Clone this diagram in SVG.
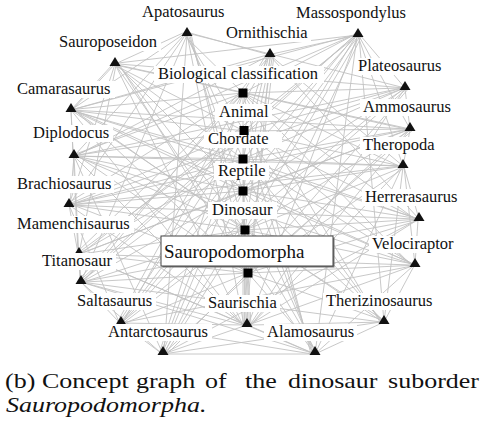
<svg xmlns="http://www.w3.org/2000/svg" width="482" height="424" viewBox="0 0 482 424">
<style>
.e{fill:none;stroke:#c2c2c2;stroke-width:0.9}
.bg{fill:#fff}
.sq{fill:#000}
</style>
<defs>
<path id="tri" d="M0 -5L5.5 4L-5.5 4Z"/>
</defs>
<rect width="482" height="424" fill="#fff"/>
<g id="connectors" class="e">
<path d="M183 34L243 93M184.5 34L244 131M186 34L243 159M188 34L243 191M189.5 34L245 230M191 34L248 273
M111 64L243 93M112.5 64L244 131M114 64L243 159M116 64L243 191M117.5 64L245 230M119 64L248 273
M266 55L243 93M267.5 55L244 131M269 55L243 159M271 55L243 191M272.5 55L245 230M274 55L248 273
M354 35L243 93M355.5 35L244 131M357 35L243 159M359 35L243 191M360.5 35L245 230M362 35L248 273
M401 88L243 93M402.5 88L244 131M404 88L243 159M406 88L243 191M407.5 88L245 230M409 88L248 273
M406 129L243 93M407.5 129L244 131M409 129L243 159M411 129L243 191M412.5 129L245 230M414 129L248 273
M399 166L243 93M400.5 166L244 131M402 166L243 159M404 166L243 191M405.5 166L245 230M407 166L248 273
M67 110L243 93M68.5 110L244 131M70 110L243 159M72 110L243 191M73.5 110L245 230M75 110L248 273
M70 156L243 93M71.5 156L244 131M73 156L243 159M75 156L243 191M76.5 156L245 230M78 156L248 273
M65 205L243 93M66.5 205L244 131M68 205L243 159M70 205L243 191M71.5 205L245 230M73 205L248 273
M75 254L243 93M76.5 254L244 131M78 254L243 159M80 254L243 191M81.5 254L245 230M83 254L248 273
M77 282L243 93M78.5 282L244 131M80 282L243 159M82 282L243 191M83.5 282L245 230M85 282L248 273
M117 323L243 93M118.5 323L244 131M120 323L243 159M122 323L243 191M123.5 323L245 230M125 323L248 273
M159 354L243 93M160.5 354L244 131M162 354L243 159M164 354L243 191M165.5 354L245 230M167 354L248 273
M243 325L243 93M244.5 325L244 131M246 325L243 159M248 325L243 191M249.5 325L245 230M251 325L248 273
M311 354L243 93M312.5 354L244 131M314 354L243 159M316 354L243 191M317.5 354L245 230M319 354L248 273
M380 322L243 93M381.5 322L244 131M383 322L243 159M385 322L243 191M386.5 322L245 230M388 322L248 273
M415 219L243 93M416.5 219L244 131M418 219L243 159M420 219L243 191M421.5 219L245 230M423 219L248 273
M411 265L243 93M412.5 265L244 131M414 265L243 159M416 265L243 191M417.5 265L245 230M419 265L248 273"/>
<path d="M187 34L244 325M115 64L243 325M270 55L246 325M358 35L248 325M405 88L250 325M410 129L251 325M403 166L251 325M71 110L243 325M74 156L243 325M69 205L243 324M79 254L243 324M81 282L243 325M121 323L243 325M163 354L244 326M315 354L250 326M384 322L251 325M419 219L251 324M415 265L251 324"/>
<path d="M185 34L74 156M184 34L71 110M186 34L69 205M183 33L115 64M190 33L270 55M187 35L81 282M191 34L405 88
M115 64L69 205M113 64L71 110M118 63L358 35M119 64L405 88M116 65L79 254M118 65L410 129
M272 54L358 35M271 56L403 166M270 56L419 219M267 55L71 110
M360 35L405 88M359 36L410 129M358 36L403 166M355 36L121 323M356 36L163 354M359 36L384 322M354 35L71 110M357 36L315 354M355 35L81 282M354 35L74 156
M405 89L410 129M402 88L74 156M402 89L69 205M403 89L121 323
M410 130L403 166M407 129L71 110M407 130L79 254M408 130L163 354
M404 167L419 219M404 167L415 265M403 167L384 322M400 166L74 156M402 167L315 354M400 166L69 205
M418 220L415 265M416 219L69 205M416 220L81 282M417 220L163 354M416 218L71 110
M414 266L384 322M412 265L79 254M412 266L121 323M412 264L74 156M413 266L315 354
M382 323L315 354M381 322L163 354M381 322L81 282M381 321L71 110
M312 354L163 354M312 353L81 282M312 354L121 323M312 353L79 254M313 352L115 64
M161 353L121 323M161 353L81 282M162 352L74 156M164 352L187 34
M119 322L81 282M119 322L69 205M123 322L270 55
M81 281L79 254M80 281L74 156M84 281L270 55
M78 253L69 205M78 253L71 110M82 253L358 35
M70 204L74 156M72 204L410 129
M73 155L71 110M77 155L270 55
M73 109L115 64M74 110L415 265"/>
</g>
<g id="nodes" font-family="Liberation Serif, serif" font-size="16.5" fill="#111">
<g id="n-sauropodomorpha"><rect x="162.5" y="237.5" width="172" height="30" fill="#777"/><rect x="161" y="236" width="172" height="30" fill="#fff" stroke="#444" stroke-width="1"/><text x="164" y="258" font-size="19">Sauropodomorpha</text><rect class="sq" x="243.5" y="268.5" width="9" height="9"/></g>
<g id="n-dinosaur"><rect class="bg" x="208" y="202" width="69" height="17"/><text x="212" y="215">Dinosaur</text><rect class="sq" x="240.5" y="225.5" width="9" height="9"/></g>
<g id="n-reptile"><rect class="bg" x="214" y="163" width="55" height="17"/><text x="218" y="176">Reptile</text><rect class="sq" x="238.5" y="186.5" width="9" height="9"/></g>
<g id="n-chordate"><rect class="bg" x="204" y="132" width="78" height="16"/><text x="208" y="144">Chordate</text><rect class="sq" x="238.5" y="154.5" width="9" height="9"/></g>
<g id="n-animal"><rect class="bg" x="215" y="104" width="57" height="17"/><text x="219" y="117">Animal</text><rect class="sq" x="239.5" y="126" width="9" height="9"/></g>
<g id="n-bioclass"><rect class="bg" x="154" y="66" width="170" height="17"/><text x="158" y="79">Biological classification</text><rect class="sq" x="238.5" y="88.5" width="9" height="9"/></g>
<g id="n-apatosaurus"><rect class="bg" x="139" y="4" width="88" height="17"/><text x="142" y="17">Apatosaurus</text><use href="#tri" x="187" y="32"/></g>
<g id="n-sauroposeidon"><rect class="bg" x="56" y="34" width="105" height="17"/><text x="59" y="47">Sauroposeidon</text><use href="#tri" x="115" y="62"/></g>
<g id="n-ornithischia"><rect class="bg" x="223" y="25" width="88" height="17"/><text x="226" y="38">Ornithischia</text><use href="#tri" x="270" y="53"/></g>
<g id="n-massospondylus"><rect class="bg" x="293" y="5" width="117" height="17"/><text x="296" y="18">Massospondylus</text><use href="#tri" x="358" y="33"/></g>
<g id="n-plateosaurus"><rect class="bg" x="355" y="58" width="89" height="17"/><text x="358" y="71">Plateosaurus</text><use href="#tri" x="405" y="86"/></g>
<g id="n-ammosaurus"><rect class="bg" x="360" y="99" width="94" height="17"/><text x="363" y="112">Ammosaurus</text><use href="#tri" x="410" y="127"/></g>
<g id="n-theropoda"><rect class="bg" x="360" y="137" width="77" height="17"/><text x="363" y="150">Theropoda</text><use href="#tri" x="403" y="164"/></g>
<g id="n-camarasaurus"><rect class="bg" x="14" y="81" width="101" height="17"/><text x="17" y="94">Camarasaurus</text><use href="#tri" x="71" y="108"/></g>
<g id="n-diplodocus"><rect class="bg" x="30" y="125" width="83" height="17"/><text x="33" y="138">Diplodocus</text><use href="#tri" x="74" y="154"/></g>
<g id="n-brachiosaurus"><rect class="bg" x="14" y="176" width="100" height="17"/><text x="17" y="189">Brachiosaurus</text><use href="#tri" x="69" y="203"/></g>
<g id="n-mamenchisaurus"><rect class="bg" x="14" y="216" width="120" height="17"/><text x="17" y="229">Mamenchisaurus</text><use href="#tri" x="79" y="252"/></g>
<g id="n-titanosaur"><rect class="bg" x="39" y="253" width="77" height="17"/><text x="42" y="266">Titanosaur</text><use href="#tri" x="81" y="280"/></g>
<g id="n-saltasaurus"><rect class="bg" x="74" y="293" width="82" height="17"/><text x="77" y="306">Saltasaurus</text><use href="#tri" x="121" y="321"/></g>
<g id="n-antarctosaurus"><rect class="bg" x="105" y="324" width="107" height="17"/><text x="108" y="337">Antarctosaurus</text><use href="#tri" x="163" y="351"/></g>
<g id="n-saurischia"><rect class="bg" x="205" y="295" width="75" height="17"/><text x="208" y="308">Saurischia</text><use href="#tri" x="247" y="323"/></g>
<g id="n-alamosaurus"><rect class="bg" x="264" y="324" width="93" height="17"/><text x="267" y="337">Alamosaurus</text><use href="#tri" x="315" y="351"/></g>
<g id="n-therizinosaurus"><rect class="bg" x="323" y="293" width="113" height="17"/><text x="326" y="306">Therizinosaurus</text><use href="#tri" x="384" y="320"/></g>
<g id="n-herrerasaurus"><rect class="bg" x="362" y="189" width="99" height="17"/><text x="365" y="202">Herrerasaurus</text><use href="#tri" x="419" y="217"/></g>
<g id="n-velociraptor"><rect class="bg" x="369" y="236" width="90" height="17"/><text x="372" y="249">Velociraptor</text><use href="#tri" x="415" y="263"/></g>
</g>
<g id="caption" font-family="Liberation Serif, serif" font-size="20" fill="#111">
<text transform="scale(1.3 1)" y="388"><tspan x="3.85">(b)</tspan><tspan x="32.3">Concept</tspan><tspan x="104.6">graph</tspan><tspan x="157.7">of</tspan><tspan x="188.5">the</tspan><tspan x="221.5">dinosaur</tspan><tspan x="298.5">suborder</tspan></text>
<text transform="scale(1.3 1)" x="4.6" y="412" font-style="italic">Sauropodomorpha.</text>
</g>
</svg>
